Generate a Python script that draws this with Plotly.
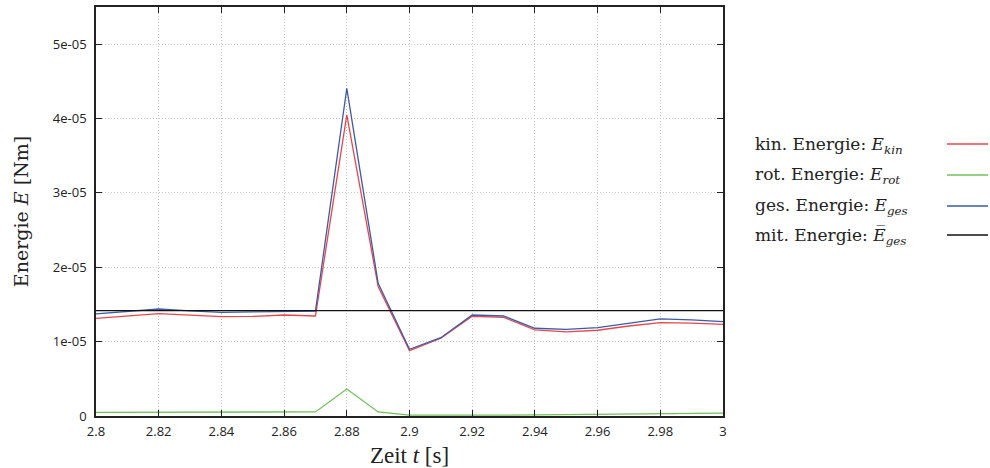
import plotly.graph_objects as go

t = [2.80, 2.81, 2.82, 2.83, 2.84, 2.85, 2.86, 2.87, 2.88, 2.89, 2.90,
     2.91, 2.92, 2.93, 2.94, 2.95, 2.96, 2.97, 2.98, 2.99, 3.00]
E_kin = [1.314, 1.345, 1.376, 1.356, 1.336, 1.340, 1.358, 1.345, 4.05, 1.74, 0.879,
         1.045, 1.341, 1.327, 1.157, 1.130, 1.153, 1.210, 1.255, 1.250, 1.233]
E_rot = [0.050, 0.052, 0.055, 0.055, 0.055, 0.055, 0.055, 0.055, 0.363, 0.054, 0.012,
         0.010, 0.010, 0.012, 0.015, 0.020, 0.025, 0.030, 0.035, 0.038, 0.040]
E_ges = [1.372, 1.405, 1.439, 1.415, 1.394, 1.400, 1.408, 1.410, 4.407, 1.785, 0.897,
         1.053, 1.358, 1.345, 1.180, 1.166, 1.188, 1.250, 1.305, 1.292, 1.268]
E_mit = 1.416

scale = 1e-05
E_kin = [v * scale for v in E_kin]
E_rot = [v * scale for v in E_rot]
E_ges = [v * scale for v in E_ges]
E_mit_series = [E_mit * scale for _ in t]

y_tickvals = [0, 1e-05, 2e-05, 3e-05, 4e-05, 5e-05]
y_ticktext = ["0", "1e-05", "2e-05", "3e-05", "4e-05", "5e-05"]
x_tickvals = [2.80, 2.82, 2.84, 2.86, 2.88, 2.90, 2.92, 2.94, 2.96, 2.98, 3.00]
x_ticktext = ["2.8", "2.82", "2.84", "2.86", "2.88", "2.9", "2.92", "2.94", "2.96", "2.98", "3"]

legend_labels = [
    "kin. Energie: <i>E</i><sub><i>kin</i></sub>",
    "rot. Energie: <i>E</i><sub><i>rot</i></sub>",
    "ges. Energie: <i>E</i><sub><i>ges</i></sub>",
    "mit. Energie: <i>E\u0305</i><sub><i>ges</i></sub>",
]
colors = ["#e8474c", "#72c05a", "#3d5aa6", "#111111"]

fig = go.Figure()
series = [E_kin, E_rot, E_ges, E_mit_series]
for ys, c in zip(series, colors):
    fig.add_trace(go.Scatter(x=t, y=ys, mode="lines",
                             line=dict(color=c, width=1.3), showlegend=False,
                             hoverinfo="skip"))

W, H = 990, 468
ml, mr, mt, mb = 96, 267, 7, 52
pw, ph = W - ml - mr, H - mt - mb

def px_x(x):
    return (x - ml) / pw

def px_y(y):
    return (H - mb - y) / ph

serif = "DejaVu Serif, Liberation Serif, serif"
legend_y = [145, 176, 206, 236]
line_y = [144, 175, 206, 235]
for lab, c, yy, ly in zip(legend_labels, colors, legend_y, line_y):
    fig.add_annotation(x=px_x(753), y=px_y(yy), xref="paper", yref="paper",
                       text=lab, showarrow=False, xanchor="left", yanchor="middle",
                       font=dict(family=serif, size=17, color="#222"))
    fig.add_shape(type="line", xref="paper", yref="paper",
                  x0=px_x(947), x1=px_x(988), y0=px_y(ly), y1=px_y(ly),
                  line=dict(color=c, width=1.3))

axis_common = dict(showline=True, linecolor="#222", linewidth=1.5, mirror="allticks",
                   ticks="inside", ticklen=6, tickcolor="#222",
                   showgrid=True, gridcolor="#c4c4c4", griddash="1px,2px", gridwidth=1,
                   zeroline=False, automargin=False,
                   tickfont=dict(family="Open Sans, sans-serif", size=13, color="#222"))

fig.update_xaxes(range=[2.8, 3.0], tickvals=x_tickvals, ticktext=x_ticktext,
                 ticklabelstandoff=3,
                 title=dict(text="Zeit <i>t</i> [s]", standoff=8,
                            font=dict(family="Liberation Serif, serif", size=23, color="#222")),
                 **axis_common)
fig.update_yaxes(range=[0, 5.5e-05], tickvals=y_tickvals, ticktext=y_ticktext,
                 ticklabelstandoff=5,
                 title=dict(text="Energie <i>E</i> [Nm]", standoff=19,
                            font=dict(family=serif, size=19, color="#222")),
                 **axis_common)

fig.update_layout(width=W, height=H, margin=dict(l=ml, r=mr, t=mt, b=mb),
                  plot_bgcolor="white", paper_bgcolor="white")

fig.write_html("out.html")
